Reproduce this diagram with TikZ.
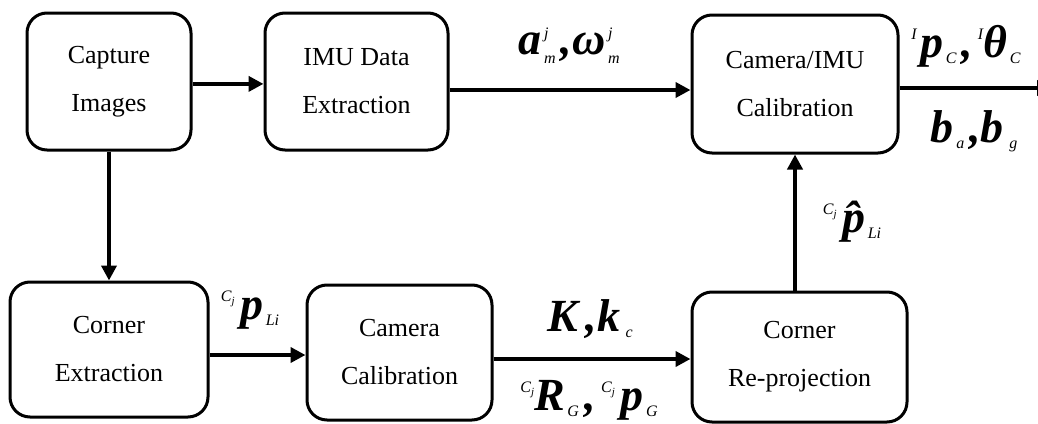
\documentclass[tikz,border=0pt]{standalone}
\usepackage{fontspec}
\setmainfont{Liberation Serif}
\usetikzlibrary{arrows.meta}

% symbol helpers for the signal labels
\newcommand\vbig[1]{{\fontsize{23}{23}\selectfont\bfseries\itshape #1}}
\newcommand\vsub[1]{\raisebox{-3pt}{\fontsize{8}{8}\selectfont\itshape #1}}
\newcommand\vsup[1]{\raisebox{9pt}{\fontsize{8}{8}\selectfont\itshape #1}}
\newcommand\vsubsup[2]{\makebox[0pt][l]{\raisebox{8pt}{\fontsize{8}{8}\selectfont\itshape\,#1}}\raisebox{-4.5pt}{\fontsize{8}{8}\selectfont\itshape #2}}
\newcommand\vcj{\raisebox{9pt}{\fontsize{8}{8}\selectfont\itshape C\raisebox{-1.5pt}{\fontsize{5.5}{5.5}\selectfont j}}}
\newcommand\vgap{\hspace{2.5pt}}

\begin{document}
\begin{tikzpicture}[x=0.5pt,y=-0.5pt,
  procbox/.style={draw, line width=1.5pt, rounded corners=10pt, align=center,
    inner sep=0pt, font=\fontsize{13}{24}\selectfont},
  flow/.style={line width=2pt, -{Triangle[length=7.5pt,width=7.5pt]}},
  sym/.style={inner sep=0pt, anchor=center}]
\useasboundingbox (0,0) rectangle (1038,423);

% processing stages
\node[procbox, minimum width=82pt, minimum height=68.5pt] (cap) at (109,81.5) {Capture\\Images};
\node[procbox, minimum width=91.5pt, minimum height=68.5pt] (imu) at (356.5,81.5) {IMU Data\\Extraction};
\node[procbox, minimum width=103pt, minimum height=69pt] (cic) at (795,84) {Camera/IMU\\Calibration};
\node[procbox, minimum width=99pt, minimum height=67.5pt] (cex) at (109,349.5) {Corner\\Extraction};
\node[procbox, minimum width=92.5pt, minimum height=67.5pt] (ccal) at (399.5,352.5) {Camera\\Calibration};
\node[procbox, minimum width=107.5pt, minimum height=65pt] (crp) at (799.5,357) {Corner\\Re-projection};
\coordinate (out) at (1052,88);

% connectors
\draw[flow] ([yshift=-1.2pt]cap.east) -- ([yshift=-1.2pt]cap.east -| imu.west);
\draw[flow] ([yshift=-4.25pt]imu.east) -- ([yshift=-4.25pt]imu.east -| cic.west);
\draw[flow] (cap.south) -- (cex.north);
\draw[flow] ([yshift=-2.75pt]cex.east) -- ([yshift=-2.75pt]cex.east -| ccal.west);
\draw[flow] ([yshift=-3.25pt]ccal.east) -- ([yshift=-3.25pt]ccal.east -| crp.west);
\draw[flow] (cic.south |- crp.north) -- (cic.south);
\draw[flow] ([yshift=-2pt]cic.east) -- (out);

% signal labels
\node[sym] (l1) at (569,46) {\vbig{a}\vsubsup{j}{\,m}\vgap\vbig{,ω}\vsubsup{j}{\,m}};
\node[sym] (l2) at (966,46) {\vsup{I}\,\vbig{p}\vsub{\,C}\vgap\vbig{,}\vgap\vsup{I}\vbig{θ}\vsub{\,C}};
\node[sym] (l3) at (974,131) {\vbig{b}\vsub{\,a}\vgap\vbig{,b}\vsub{\,\,g}};
\node[sym] (l4) at (250,310) {\vcj\;\vbig{p}\vsub{\,Li}};
\node[sym] (l5) at (590,319) {\vbig{K\,,k}\vsub{\,\,c}};
\node[sym] (l6) at (589,400) {\vcj\vbig{R}\vsub{\,G}\vgap\vbig{,}\;\vcj\;\vbig{p}\vsub{\,G}};
\node[sym] (l7) at (852,222) {\vcj\;\vbig{\^p}\vsub{\,Li}};
\end{tikzpicture}
\end{document}
